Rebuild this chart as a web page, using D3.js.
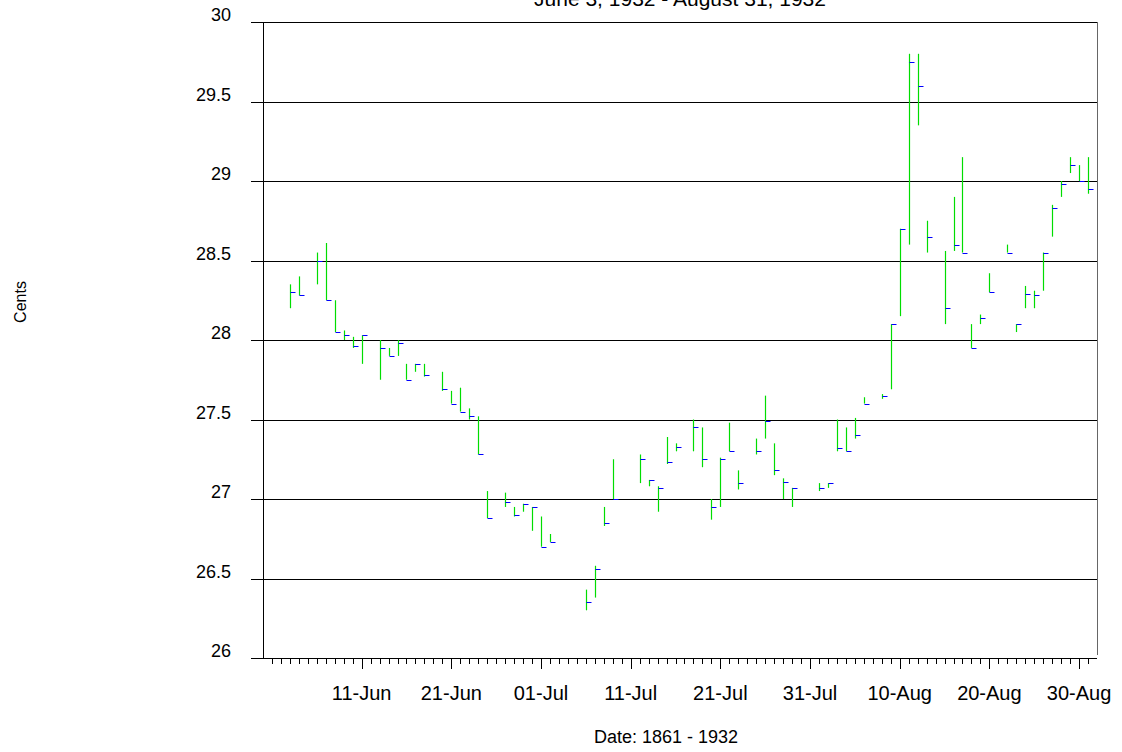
<!DOCTYPE html>
<html><head><meta charset="utf-8">
<script src="https://cdn.jsdelivr.net/npm/d3@7"></script>
<style>body{margin:0;background:#fff;}svg{display:block;font-family:"Liberation Sans",Arial,sans-serif;}</style>
</head><body>
<svg id="c" width="1122" height="752"></svg>
<script>
const titleText = "June 3, 1932 - August 31, 1932";
const xTitle = "Date: 1861 - 1932";
const yTitle = "Cents";
const dates = ["1932-06-03","1932-06-04","1932-06-06","1932-06-07","1932-06-08","1932-06-09","1932-06-10","1932-06-11",
"1932-06-13","1932-06-14","1932-06-15","1932-06-16","1932-06-17","1932-06-18","1932-06-20","1932-06-21","1932-06-22",
"1932-06-23","1932-06-24","1932-06-25","1932-06-27","1932-06-28","1932-06-29","1932-06-30","1932-07-01","1932-07-02",
"1932-07-06","1932-07-07","1932-07-08","1932-07-09","1932-07-12","1932-07-13","1932-07-14","1932-07-15","1932-07-16",
"1932-07-18","1932-07-19","1932-07-20","1932-07-21","1932-07-22","1932-07-23","1932-07-25","1932-07-26","1932-07-27",
"1932-07-28","1932-07-29","1932-08-01","1932-08-02","1932-08-03","1932-08-04","1932-08-05","1932-08-06","1932-08-08",
"1932-08-09","1932-08-10","1932-08-11","1932-08-12","1932-08-13","1932-08-15","1932-08-16","1932-08-17","1932-08-18",
"1932-08-19","1932-08-20","1932-08-22","1932-08-23","1932-08-24","1932-08-25","1932-08-26","1932-08-27","1932-08-28",
"1932-08-29","1932-08-30","1932-08-31"];
const highs = [28.35,28.40,28.55,28.61,28.25,28.06,28.02,28.03,
28.00,27.95,28.00,27.85,27.85,27.85,27.80,27.68,27.70,
27.57,27.52,27.05,27.04,26.95,26.97,26.95,26.89,26.78,
26.43,26.58,26.95,27.25,27.28,27.12,27.08,27.39,27.35,
27.50,27.45,27.00,27.26,27.48,27.18,27.38,27.65,27.35,
27.13,27.07,27.10,27.10,27.50,27.45,27.51,27.64,27.66,
28.10,28.70,29.80,29.80,28.75,28.56,28.90,29.15,28.10,
28.16,28.42,28.60,28.10,28.34,28.31,28.55,28.85,29.00,
29.15,29.10,29.15];
const lows = [28.20,28.28,28.35,28.25,28.05,28.00,27.95,27.85,
27.75,27.90,27.90,27.75,27.80,27.77,27.68,27.60,27.55,
27.50,27.28,26.88,26.95,26.89,26.92,26.80,26.70,26.73,
26.30,26.38,26.83,27.00,27.10,27.08,26.92,27.22,27.30,
27.30,27.20,26.87,26.95,27.30,27.06,27.28,27.38,27.15,
27.00,26.95,27.05,27.07,27.30,27.30,27.38,27.60,27.63,
27.69,28.15,28.60,29.35,28.55,28.10,28.56,28.55,27.95,
28.10,28.30,28.55,28.05,28.20,28.20,28.31,28.65,28.90,
29.05,29.00,28.92];
const closes = [28.30,28.28,28.50,28.25,28.05,28.03,27.96,28.03,
27.95,27.90,27.98,27.75,27.85,27.78,27.69,27.60,27.55,
27.52,27.28,26.88,26.98,26.90,26.97,26.95,26.70,26.73,
26.35,26.56,26.85,27.00,27.25,27.12,27.07,27.23,27.33,
27.45,27.25,26.95,27.25,27.30,27.10,27.30,27.49,27.18,
27.11,27.07,27.07,27.10,27.32,27.30,27.40,27.60,27.65,
28.10,28.70,29.75,29.60,28.65,28.20,28.60,28.55,27.95,
28.14,28.30,28.55,28.10,28.29,28.28,28.55,28.83,28.98,
29.10,29.00,28.95];
const yTicks = [26,26.5,27,27.5,28,28.5,29,29.5,30];
const xDomain = ["1932-05-31","1932-09-01"];
const majorTicks = ["1932-06-11","1932-06-21","1932-07-01","1932-07-11","1932-07-21","1932-07-31","1932-08-10","1932-08-20","1932-08-30"];
const minorRange = ["1932-06-01","1932-08-31"];

const parse = d3.utcParse("%Y-%m-%d");
const svg = d3.select("#c");
const L = 263, R = 1097, T = 22, B = 658;
const x = d3.scaleUtc().domain(xDomain.map(parse)).range([L, R]);
const y = d3.scaleLinear().domain([26, 30]).range([B, T]);
const cx = v => Math.round(x(v)) + 0.5;
const cy = v => Math.round(y(v)) + 0.5;

// gridlines
svg.append("g").selectAll("line").data(yTicks).join("line")
  .attr("x1", 251).attr("x2", R).attr("y1", d => cy(d)).attr("y2", d => cy(d))
  .attr("stroke", "#000").attr("stroke-width", 1);
// frame sides
svg.append("line").attr("x1", L + 0.5).attr("x2", L + 0.5).attr("y1", T).attr("y2", B + 0.5).attr("stroke", "#000");
svg.append("line").attr("x1", R + 0.5).attr("x2", R + 0.5).attr("y1", T).attr("y2", B - 3).attr("stroke", "#666");

// y labels
svg.append("g").selectAll("text").data(yTicks).join("text")
  .attr("x", 231).attr("y", d => y(d) - 7).attr("dy", "0.35em")
  .attr("text-anchor", "end").attr("font-size", 18).attr("fill", "#000")
  .text(d => String(d));

// x axis
const xa = svg.append("g").attr("transform", `translate(0,${B})`);
xa.append("line").attr("x1", 251).attr("x2", 1087).attr("y1", 0.5).attr("y2", 0.5).attr("stroke", "#000");
const minorDays = d3.utcDay.range(parse(minorRange[0]), d3.utcDay.offset(parse(minorRange[1]), 1));
xa.selectAll("line.mn").data(minorDays).join("line").attr("class", "mn")
  .attr("x1", d => cx(d)).attr("x2", d => cx(d)).attr("y1", 0).attr("y2", 6).attr("stroke", "#000");
const majors = majorTicks.map(parse);
xa.selectAll("line.mj").data(majors).join("line").attr("class", "mj")
  .attr("x1", d => cx(d)).attr("x2", d => cx(d)).attr("y1", 0).attr("y2", 11).attr("stroke", "#000");
const fmt = d3.utcFormat("%d-%b");
xa.selectAll("text").data(majors).join("text")
  .attr("x", d => x(d)).attr("y", 42).attr("text-anchor", "middle")
  .attr("font-size", 20).attr("fill", "#000").text(d => fmt(d));

// titles
svg.append("text").attr("x", 680).attr("y", 6).attr("text-anchor", "middle").attr("font-size", 21).text(titleText);
svg.append("text").attr("x", 666).attr("y", 743).attr("text-anchor", "middle").attr("font-size", 18).text(xTitle);
svg.append("text").attr("transform", "translate(26,302) rotate(-90)").attr("text-anchor", "middle").attr("font-size", 16).text(yTitle);

// HLC bars
const data = dates.map((d, i) => ({date: parse(d), h: highs[i], l: lows[i], c: closes[i]}));
const g = svg.append("g");
g.selectAll("line.hl").data(data).join("line").attr("class", "hl")
  .attr("x1", d => cx(d.date)).attr("x2", d => cx(d.date))
  .attr("y1", d => y(d.h)).attr("y2", d => y(d.l))
  .attr("stroke", "#00dd00").attr("stroke-width", 1.2);
g.selectAll("line.cl").data(data).join("line").attr("class", "cl")
  .attr("x1", d => cx(d.date)).attr("x2", d => cx(d.date) + 5)
  .attr("y1", d => cy(d.c)).attr("y2", d => cy(d.c))
  .attr("stroke", "#0000ff").attr("stroke-width", 1);
</script>
</body></html>
